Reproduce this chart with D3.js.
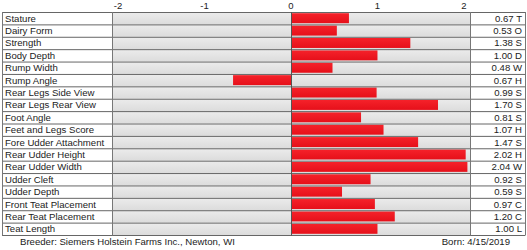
<!DOCTYPE html>
<html lang="en">
<head>
  <meta charset="UTF-8" />
  <title>Linear Traits</title>
  <style>
    body { margin: 0; background: #fff; font-family: Arial, "Liberation Sans", sans-serif; }
    text { font-family: Arial, "Liberation Sans", sans-serif; fill: #222; }
  </style>
</head>
<body>
  <div id="chart"></div>
  <script src="https://cdnjs.cloudflare.com/ajax/libs/d3/7.8.4/d3.min.js"></script>
  <script>
    const traits = ["Stature", "Dairy Form", "Strength", "Body Depth", "Rump Width", "Rump Angle",
      "Rear Legs Side View", "Rear Legs Rear View", "Foot Angle", "Feet and Legs Score",
      "Fore Udder Attachment", "Rear Udder Height", "Rear Udder Width", "Udder Cleft",
      "Udder Depth", "Front Teat Placement", "Rear Teat Placement", "Teat Length"];
    const values = [0.67, 0.53, 1.38, 1.00, 0.48, -0.67, 0.99, 1.70, 0.81, 1.07, 1.47, 2.02, 2.04, 0.92, 0.59, 0.97, 1.20, 1.00];
    const codes = ["T", "O", "S", "D", "W", "H", "S", "S", "S", "H", "S", "H", "W", "S", "S", "C", "C", "L"];
    const ticks = [-2, -1, 0, 1, 2];

    const width = 527, height = 250;
    const plotLeft = 112, plotRight = 470, plotTop = 12, plotBottom = 235;
    const tableLeft = 2, tableRight = 525;

    const svg = d3.select("#chart").append("svg").attr("width", width).attr("height", height);

    const x = d3.scaleLinear().domain([-2.07, 2.07]).range([plotLeft, plotRight]);
    const y = d3.scaleBand().domain(traits).range([plotTop, plotBottom]);

    const defs = svg.append("defs");
    const bg = defs.append("linearGradient").attr("id", "bg").attr("x1", 0).attr("y1", 0).attr("x2", 0).attr("y2", 1);
    bg.append("stop").attr("offset", "0%").attr("stop-color", "#ececec");
    bg.append("stop").attr("offset", "100%").attr("stop-color", "#dcdcdc");
    const red = defs.append("linearGradient").attr("id", "red").attr("x1", 0).attr("y1", 0).attr("x2", 0).attr("y2", 1);
    red.append("stop").attr("offset", "0%").attr("stop-color", "#f5222a");
    red.append("stop").attr("offset", "100%").attr("stop-color", "#e6101a");

    // plot background per row
    svg.append("g").selectAll("rect").data(traits).join("rect")
      .attr("x", plotLeft).attr("y", d => y(d))
      .attr("width", plotRight - plotLeft).attr("height", y.bandwidth())
      .attr("fill", "url(#bg)");

    // bars
    svg.append("g").selectAll("rect").data(values).join("rect")
      .attr("x", d => x(Math.min(0, d)))
      .attr("y", (d, i) => y(traits[i]) + 1.2)
      .attr("width", d => Math.abs(x(d) - x(0)))
      .attr("height", y.bandwidth() - 2.4)
      .attr("fill", "url(#red)");

    // row lines
    svg.append("g").selectAll("line").data(d3.range(traits.length + 1)).join("line")
      .attr("x1", tableLeft).attr("x2", tableRight)
      .attr("y1", i => plotTop + i * y.step() + 0.5).attr("y2", i => plotTop + i * y.step() + 0.5)
      .attr("stroke", "#666").attr("stroke-width", 1);

    // vertical lines
    svg.append("g").selectAll("line").data([tableLeft, plotLeft, x(0), plotRight, tableRight]).join("line")
      .attr("x1", d => Math.round(d) + 0.5).attr("x2", d => Math.round(d) + 0.5)
      .attr("y1", plotTop).attr("y2", plotBottom + 0.5)
      .attr("stroke", (d, i) => i === 2 ? "#555" : "#777").attr("stroke-width", 1);

    // top axis
    svg.append("g").selectAll("text").data(ticks).join("text")
      .attr("x", d => x(d)).attr("y", 9)
      .attr("text-anchor", "middle").attr("font-size", 9.5)
      .text(d => d);

    // trait labels
    svg.append("g").selectAll("text").data(traits).join("text")
      .attr("x", 5).attr("y", d => y(d) + y.bandwidth() / 2 + 3.5)
      .attr("font-size", 9.6)
      .text(d => d);

    // value labels (shown unsigned, the letter gives the direction)
    svg.append("g").selectAll("text").data(values).join("text")
      .attr("x", 522).attr("y", (d, i) => y(traits[i]) + y.bandwidth() / 2 + 3.5)
      .attr("text-anchor", "end").attr("font-size", 9.6)
      .text((d, i) => Math.abs(d).toFixed(2) + " " + codes[i]);

    // footer
    svg.append("text").attr("x", 20).attr("y", 245).attr("font-size", 9.6)
      .text("Breeder:  Siemers Holstein Farms Inc.,  Newton, WI");
    svg.append("text").attr("x", 510).attr("y", 245).attr("text-anchor", "end").attr("font-size", 9.6)
      .text("Born:  4/15/2019");
  </script>
</body>
</html>
